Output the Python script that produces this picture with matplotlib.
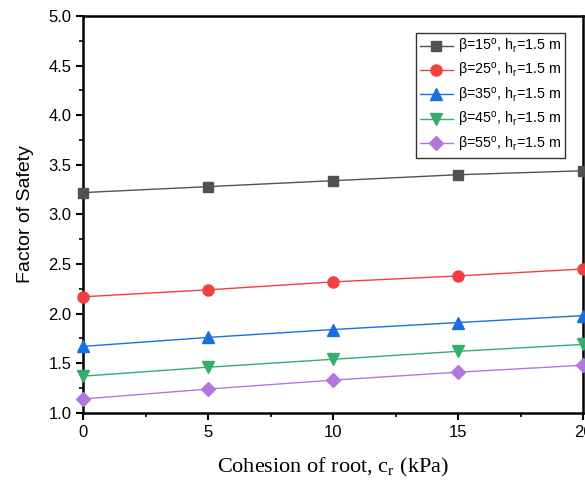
import matplotlib
matplotlib.use('Agg')
from matplotlib import pyplot as plt
from matplotlib.ticker import MultipleLocator

plt.rcParams['font.family'] = ['Liberation Sans', 'DejaVu Sans']
plt.rcParams['mathtext.fontset'] = 'custom'
plt.rcParams['mathtext.rm'] = 'Liberation Sans'
plt.rcParams['mathtext.it'] = 'Liberation Sans:italic'

cohesion = [0, 5, 10, 15, 20]
fs_15 = [3.22, 3.28, 3.34, 3.40, 3.44]
fs_25 = [2.17, 2.24, 2.32, 2.38, 2.45]
fs_35 = [1.67, 1.76, 1.84, 1.91, 1.98]
fs_45 = [1.37, 1.46, 1.54, 1.62, 1.69]
fs_55 = [1.14, 1.24, 1.33, 1.41, 1.48]
angles = [15, 25, 35, 45, 55]

series = [fs_15, fs_25, fs_35, fs_45, fs_55]
colors = ['#515151', '#F14040', '#1A6FDF', '#37AD6B', '#B177DE']
markers = ['s', 'o', '^', 'v', 'D']
sizes = [7, 8, 8, 8, 7]

fig = plt.figure(figsize=(5.85, 4.84), dpi=100)
ax = fig.add_axes([0.142, 0.147, 0.855, 0.820])

for vals, b, c, m, s in zip(series, angles, colors, markers, sizes):
    lbl = r'β=%d$^{\mathrm{o}}$, h$_{\mathrm{r}}$=1.5 m' % b
    ax.plot(cohesion, vals, color=c, marker=m, markersize=s, linewidth=1,
            label=lbl, clip_on=False, zorder=3)

ax.set_xlim(0, 20)
ax.set_ylim(1.0, 5.0)
ax.xaxis.set_major_locator(MultipleLocator(5))
ax.xaxis.set_minor_locator(MultipleLocator(2.5))
ax.yaxis.set_major_locator(MultipleLocator(0.5))
ax.yaxis.set_minor_locator(MultipleLocator(0.25))
ax.yaxis.set_major_formatter(matplotlib.ticker.FormatStrFormatter('%.1f'))
ax.tick_params(which='major', direction='out', length=5, width=1.5, labelsize=12)
ax.tick_params(which='minor', direction='out', length=3, width=1.2)
for sp in ax.spines.values():
    sp.set_linewidth(1.8)

ax.set_xlabel(r'Cohesion of root, c$_{\mathrm{r}}$ (kPa)', fontsize=16,
              family=['Liberation Serif'], labelpad=12)
ax.xaxis.label.set_math_fontfamily('stix')
ax.set_ylabel('Factor of Safety', fontsize=14, labelpad=10)

leg = ax.legend(loc='upper right', bbox_to_anchor=(0.964, 0.958), fontsize=10.3,
                frameon=True, fancybox=False, edgecolor='black',
                handlelength=2.3, handletextpad=0.35, labelspacing=0.38,
                borderpad=0.3, borderaxespad=0)
leg.get_frame().set_linewidth(1.0)

fig.savefig('out.png', dpi=100)
